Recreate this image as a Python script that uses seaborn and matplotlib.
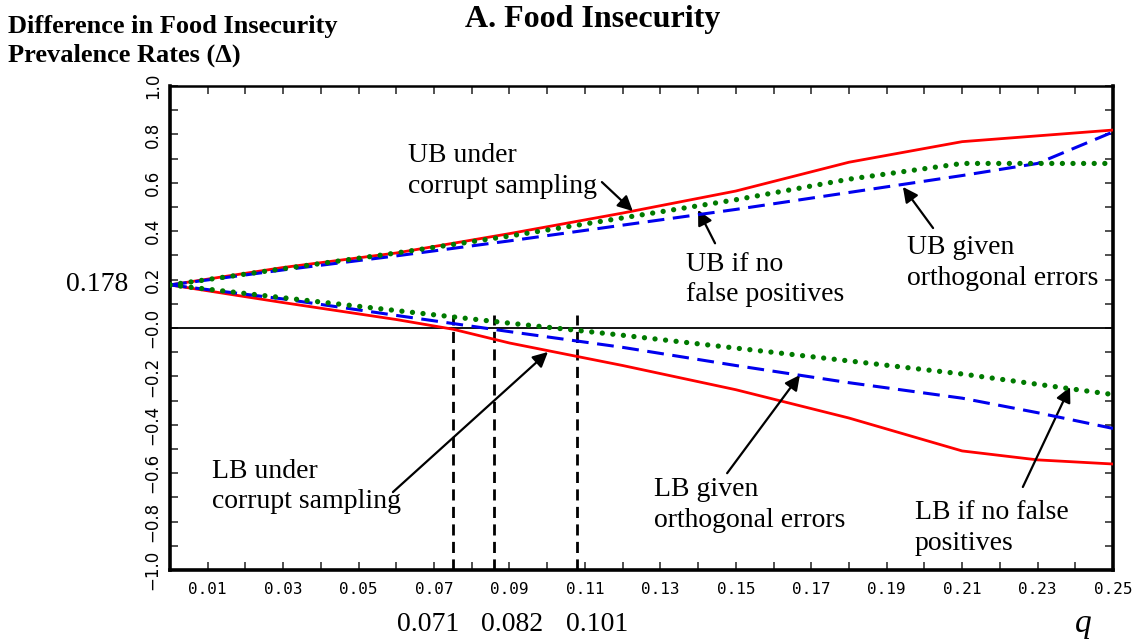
import matplotlib
matplotlib.use("Agg")
import matplotlib.pyplot as plt
import matplotlib.transforms as mtransforms
import seaborn as sns
import pandas as pd
import numpy as np

# ---------------- data ----------------
q_ub_cs = [0, 0.03, 0.06, 0.09, 0.12, 0.15, 0.18, 0.21, 0.25]
ub_cs = [0.178, 0.25, 0.31, 0.39, 0.475, 0.566, 0.685, 0.77, 0.818]

q_ub_nfp = [0, 0.03, 0.06, 0.09, 0.12, 0.15, 0.18, 0.21, 0.23, 0.25]
ub_nfp = [0.178, 0.24, 0.298, 0.36, 0.425, 0.49, 0.56, 0.63, 0.68, 0.81]

q_ub_oe = [0, 0.03, 0.06, 0.09, 0.12, 0.15, 0.18, 0.21, 0.25]
ub_oe = [0.178, 0.245, 0.31, 0.38, 0.455, 0.53, 0.615, 0.68, 0.68]

q_lb_cs = [0, 0.03, 0.06, 0.075, 0.09, 0.12, 0.15, 0.18, 0.21, 0.23, 0.25]
lb_cs = [0.178, 0.105, 0.035, -0.005, -0.062, -0.155, -0.255, -0.372, -0.508, -0.545, -0.562]

q_lb_nfp = [0, 0.03, 0.06, 0.09, 0.12, 0.15, 0.18, 0.21, 0.23, 0.25]
lb_nfp = [0.178, 0.12, 0.052, -0.015, -0.08, -0.155, -0.226, -0.29, -0.35, -0.415]

q_lb_oe = [0, 0.03, 0.06, 0.09, 0.12, 0.15, 0.18, 0.21, 0.25]
lb_oe = [0.178, 0.125, 0.072, 0.02, -0.03, -0.083, -0.136, -0.19, -0.275]

cut_q = [0.075, 0.086, 0.108]
cut_labels = ["0.071", "0.082", "0.101"]
delta0 = 0.178

x_major = [0.01, 0.03, 0.05, 0.07, 0.09, 0.11, 0.13, 0.15, 0.17, 0.19, 0.21, 0.23, 0.25]
x_major_labels = ["0.01", "0.03", "0.05", "0.07", "0.09", "0.11", "0.13",
                  "0.15", "0.17", "0.19", "0.21", "0.23", "0.25"]
y_major = [-1.0, -0.8, -0.6, -0.4, -0.2, 0.0, 0.2, 0.4, 0.6, 0.8, 1.0]
y_major_labels = ["\u22121.0", "\u22120.8", "\u22120.6", "\u22120.4", "\u22120.2",
                  "\u22120.0", "0.2", "0.4", "0.6", "0.8", "1.0"]

# ---------------- style ----------------
sns.set_style("ticks")
plt.rcParams["font.family"] = ["DejaVu Sans"]
plt.rcParams["text.color"] = "black"
plt.rcParams["xtick.labelcolor"] = "black"
plt.rcParams["ytick.labelcolor"] = "black"
SERIF = ["Liberation Serif", "DejaVu Serif"]

fig = plt.figure(figsize=(11.39, 6.42), dpi=100)
ax = fig.add_axes([170 / 1139, 1 - 570 / 642, (1113 - 170) / 1139, (570 - 86) / 642])

RED, BLUE, GREEN = "#ff0000", "#0000ee", "#007a00"

def draw(qs, vals, **kw):
    df = pd.DataFrame({"q": qs, "v": vals})
    sns.lineplot(data=df, x="q", y="v", ax=ax, estimator=None, sort=False, **kw)

# zero line
ax.axhline(0, color="black", lw=1.3, zorder=1)

# cut-off vertical dashed lines
for cq in cut_q:
    ax.plot([cq, cq], [-1.0, 0.055], color="black", lw=2.0,
            linestyle=(0, (4, 2.3)), zorder=2)

draw(q_ub_cs, ub_cs, color=RED, linewidth=2.0, zorder=3)
draw(q_lb_cs, lb_cs, color=RED, linewidth=2.0, zorder=3)
draw(q_ub_nfp, ub_nfp, color=BLUE, linewidth=2.2, linestyle=(0, (5.5, 2.8)), zorder=4)
draw(q_lb_nfp, lb_nfp, color=BLUE, linewidth=2.2, linestyle=(0, (5.5, 2.8)), zorder=4)
for qs, vals in [(q_ub_oe, ub_oe), (q_lb_oe, lb_oe)]:
    draw(qs, vals, color=GREEN, linewidth=3.8, linestyle=(0, (0.01, 2.0)),
         dash_capstyle="round", zorder=5)

ax.set_xlim(0, 0.25)
ax.set_ylim(-1.0, 1.0)
ax.set_xlabel("")
ax.set_ylabel("")

ax.set_xticks(x_major)
ax.set_xticklabels(x_major_labels, family="DejaVu Sans Mono", fontsize=11.5, color="black")
ax.set_xticks(np.arange(0.02, 0.25, 0.02), minor=True)
ax.set_yticks(y_major)
ax.set_yticklabels(y_major_labels, rotation=90, va="center", fontsize=12, color="black")
ax.set_yticks(np.arange(-0.9, 1.0, 0.2), minor=True)
ax.tick_params(axis="both", which="both", direction="in", length=6, width=1.2,
               color="#333333", top=True, right=True)
ax.tick_params(axis="x", which="major", pad=9)
ax.tick_params(axis="y", which="major", pad=6)

for s in ["left", "bottom", "right"]:
    ax.spines[s].set_linewidth(2.6)
ax.spines["top"].set_linewidth(1.8)
for s in ax.spines.values():
    s.set_color("black")

# ---------------- texts ----------------
fig.text(593 / 1139, 1 - 20 / 642, "A. Food Insecurity", ha="center", va="center",
         family=SERIF, fontsize=23, fontweight="bold", color="black")
fig.text(8 / 1139, 1 - 15 / 642, "Difference in Food Insecurity\nPrevalence Rates (\u0394)",
         ha="left", va="top", family=SERIF, fontsize=19, fontweight="bold",
         linespacing=1.3, color="black")

yblend = mtransforms.blended_transform_factory(ax.transAxes, ax.transData)
ax.text(-0.044, delta0, f"{delta0:.3f}", transform=yblend, ha="right", va="center",
        family=SERIF, fontsize=20, clip_on=False, color="black")

xblend = mtransforms.blended_transform_factory(ax.transData, ax.transAxes)
for lx, lab in zip([0.0684, 0.0907, 0.1132], cut_labels):
    ax.text(lx, -0.112, lab, transform=xblend, ha="center", va="center",
            family=SERIF, fontsize=20, clip_on=False, color="black")
ax.text(0.242, -0.112, "q", transform=xblend, ha="center", va="center",
        family=SERIF, fontsize=24, style="italic", clip_on=False, color="black")

ann_kw = dict(family=SERIF, fontsize=20, linespacing=1.3, ha="left", va="top",
              color="black")
arrow = dict(arrowstyle="-|>,head_length=0.9,head_width=0.45", color="black",
             lw=1.6, shrinkA=0, shrinkB=0)

annotations = [
    ("UB under\ncorrupt sampling", (0.0631, 0.765), (0.1227, 0.483), (0.1145, 0.603)),
    ("UB if no\nfalse positives", (0.1368, 0.315), (0.140, 0.488), (0.1445, 0.35)),
    ("UB given\northogonal errors", (0.1954, 0.385), (0.1943, 0.583), (0.2023, 0.413)),
    ("LB under\ncorrupt sampling", (0.0111, -0.54), (0.1002, -0.099), (0.0591, -0.678)),
    ("LB given\northogonal errors", (0.1283, -0.615), (0.167, -0.194), (0.1477, -0.60)),
    ("LB if no false\npositives", (0.1975, -0.71), (0.2386, -0.244), (0.2261, -0.657)),
]
for txt, tpos, tip, tail in annotations:
    ax.text(tpos[0], tpos[1], txt, **ann_kw)
    ax.annotate("", xy=tip, xytext=tail, arrowprops=arrow)

fig.savefig("out.png", dpi=100)
